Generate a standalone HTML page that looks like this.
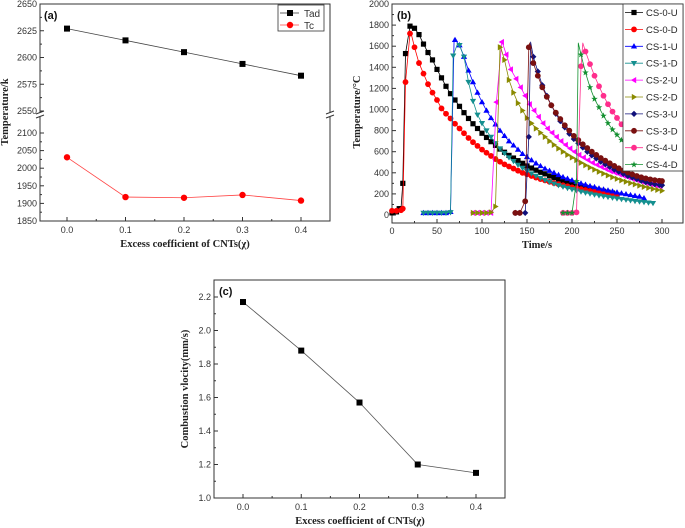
<!DOCTYPE html>
<html><head><meta charset="utf-8"><style>
html,body{margin:0;padding:0;background:#fff;}
svg{display:block;font-family:"Liberation Sans",sans-serif;}
.tk{font-size:9px;fill:#333;}
.ttl{font-family:"Liberation Serif",serif;font-weight:bold;font-size:10.5px;fill:#222;}
</style></head><body>
<svg id="fig" width="685" height="528" viewBox="0 0 685 528"></svg>
<script>
// ---- Panel (a) data ----
const aX = [0.0, 0.1, 0.2, 0.3, 0.4];
const aTad = [2627, 2616, 2605, 2594, 2583];
const aTc = [2031, 1918, 1916, 1924, 1908];
const aXTicks = ['0.0','0.1','0.2','0.3','0.4'];
const aUpperTicks = [2550, 2575, 2600, 2625, 2650];
const aLowerTicks = [1850, 1900, 1950, 2000, 2050, 2100];
// ---- Panel (b) data ----
const bXTicks = [0, 50, 100, 150, 200, 250, 300];
const bYTicks = [0, 200, 400, 600, 800, 1000, 1200, 1400, 1600, 1800, 2000];
const cs0uT = [0,5,8,10,12,15,20,25,30,35,40,45,50,55,60,65,70,75,80,85,90,95,100,105,110,115,120,125,130,135,140,145,150,155,160,165,170,175,180,185,190,195,200,205,210,215,220,225,230,235,240,245];
const cs0uV = [20,30,60,60,300,1530,1790,1770,1710,1620,1540,1470,1380,1300,1220,1150,1090,1030,970,915,865,820,775,735,695,660,625,595,565,540,515,490,465,445,425,405,390,370,355,340,325,312,300,288,276,265,254,244,234,225,216,208];
const cs0dT = [0,5,10,12,15,20,25,30,35,40,45,50,55,60,65,70,75,80,85,90,95,100,105,110,115,120,125,130,135,140,145,150,155,160,165,170,175,180,185,190,195,200,205,210,215,220,225,230,235,240,245,250];
const cs0dV = [40,40,45,60,1260,1720,1590,1440,1340,1240,1160,1090,1010,960,915,865,820,775,730,690,655,620,590,560,530,505,480,460,440,420,400,385,370,355,340,328,315,303,292,282,272,262,253,245,237,229,222,215,208,201,195,189];
const cs1uT = [35,40,45,50,55,60,65,70,75,80,85,90,95,100,105,110,115,120,125,130,135,140,145,150,155,160,165,170,175,180,185,190,195,200,205,210,215,220,225,230,235,240,245,250,255,260,265,270,275,280];
const cs1uV = [20,20,20,20,20,20,30,1660,1610,1500,1370,1260,1160,1070,990,920,860,800,750,700,660,620,580,550,520,490,465,440,420,400,380,360,345,330,315,300,288,275,265,253,243,233,224,215,206,198,190,182,175,160];
const cs1dT = [35,40,45,50,55,60,65,68,75,80,85,90,95,100,105,110,115,120,125,130,135,140,145,150,155,160,165,170,175,180,185,190,195,200,205,210,215,220,225,230,235,240,245,250,255,260,265,270,275,280,285,290];
const cs1dV = [20,20,20,20,20,20,25,1510,1610,1500,1260,1080,950,870,800,740,680,630,585,545,510,475,445,418,393,370,350,330,313,297,282,268,255,243,232,221,211,202,193,185,177,170,163,156,150,144,138,132,127,122,117,112];
const cs2uT = [90,95,100,105,110,116,122,127,132,138,143,148,153,158,163,168,173,178,183,188,193,198,203,208,213,218,223,228,233,238,243,248,253,258,263,268,273,278,283,288,293,298];
const cs2uV = [20,20,20,20,20,1070,1640,1520,1380,1290,1210,1130,1050,990,930,870,820,780,740,700,665,630,600,570,545,520,495,475,455,435,415,400,385,370,355,340,328,315,303,292,282,265];
const cs2dT = [90,95,100,105,110,115,120,125,130,135,140,145,150,155,160,165,170,175,180,185,190,195,200,205,210,215,220,225,230,235,240,245,250,255,260,265,270,275,280,285,290,295,300];
const cs2dV = [20,20,20,20,25,80,1590,1470,1280,1160,1060,990,920,870,820,780,740,700,665,630,600,570,545,520,495,472,450,430,410,392,375,358,343,328,315,302,290,278,267,257,247,238,230];
const cs3uT = [137,142,148,152,157,162,167,172,177,182,187,192,197,202,207,212,217,222,227,232,237,242,247,252,257,262,267,272,277,282,287,292,297,300];
const cs3uV = [20,20,20,740,1500,1360,1230,1130,1040,960,890,830,770,720,680,640,600,565,535,505,480,455,430,410,390,370,355,340,325,312,300,292,285,282];
const cs3dT = [137,142,148,152,157,162,167,172,177,182,187,192,197,202,207,212,217,222,227,232,237,242,247,252,257,262,267,272,277,282,287,292,297,300];
const cs3dV = [20,20,130,1590,1440,1320,1210,1120,1040,970,910,850,800,750,710,670,635,600,570,540,515,490,465,443,422,403,385,370,357,347,338,330,325,322];
const cs4uT = [190,195,200,205,210,215,220,225,230,235,240,245,250,255,260,265,270,275,280,285,290,295,300];
const cs4uV = [20,20,20,25,1410,1550,1430,1320,1220,1130,1050,980,920,860,810,760,720,680,640,610,580,555,535];
const cs4dT = [190,195,200,205,210,215,220,225,230,235,240,245,250,255,260,265,270,275,280,285,290,295,300];
const cs4dV = [20,20,20,320,1520,1350,1210,1100,1020,940,870,810,760,710,670,630,590,560,530,505,480,460,440];
// line-only peak points (curve maxima between samples) [time, temp] per series
const bPeakT = [21, 21, 69, 73, 122, 120, 154, 153, 212, 207];
const bPeakV = [1800, 1730, 1670, 1630, 1650, 1610, 1640, 1630, 1630, 1630];
const bNames = ['CS-0-U','CS-0-D','CS-1-U','CS-1-D','CS-2-U','CS-2-D','CS-3-U','CS-3-D','CS-4-U','CS-4-D'];
// ---- Panel (c) data ----
const cX = [0.0, 0.1, 0.2, 0.3, 0.4];
const cV = [2.17, 1.88, 1.57, 1.20, 1.15];
const cXTicks = ['0.0','0.1','0.2','0.3','0.4'];
const cYTicks = [1.0, 1.2, 1.4, 1.6, 1.8, 2.0, 2.2];

const NS = 'http://www.w3.org/2000/svg';
const svg = document.getElementById('fig');
function el(tag, attrs, parent, text) {
  const e = document.createElementNS(NS, tag);
  for (const k in attrs) e.setAttribute(k, attrs[k]);
  if (text !== undefined) e.textContent = text;
  (parent || svg).appendChild(e);
  return e;
}
function lin(d0, d1, r0, r1) { return v => r0 + (v - d0) * (r1 - r0) / (d1 - d0); }
function marker(g, shape, x, y, color, s) {
  let m;
  if (shape === 'square') m = el('rect', {x: x - s, y: y - s, width: 2 * s, height: 2 * s, fill: color}, g);
  else if (shape === 'circle') m = el('circle', {cx: x, cy: y, r: s, fill: color}, g);
  else {
    let pts;
    const k = s * 1.2;
    if (shape === 'up') pts = [[x, y - k], [x - k, y + k * 0.7], [x + k, y + k * 0.7]];
    if (shape === 'down') pts = [[x, y + k], [x - k, y - k * 0.7], [x + k, y - k * 0.7]];
    if (shape === 'left') pts = [[x - k, y], [x + k * 0.7, y - k], [x + k * 0.7, y + k]];
    if (shape === 'right') pts = [[x + k, y], [x - k * 0.7, y - k], [x - k * 0.7, y + k]];
    if (shape === 'diamond') pts = [[x, y - k], [x + k, y], [x, y + k], [x - k, y]];
    if (shape === 'star') {
      pts = [];
      for (let i = 0; i < 10; i++) {
        const r = i % 2 ? k * 0.45 : k * 1.1;
        const a = -Math.PI / 2 + i * Math.PI / 5;
        pts.push([x + r * Math.cos(a), y + r * Math.sin(a)]);
      }
    }
    m = el('polygon', {points: pts.map(p => p.join(',')).join(' '), fill: color}, g);
  }
  return m;
}

// ================= Panel (a) =================
const ga = el('g', {});


const ax = lin(0, 0.4, 67, 301);
const ayU = lin(2550, 2650, 111, 4);
const ayL = lin(1850, 2100, 221, 133);
const aFrame = el('rect', {x: 40, y: 4, width: 290, height: 217, fill: 'none', stroke: '#333', 'stroke-width': 1}, ga);


el('rect', {x: 36, y: 112, width: 8, height: 5, fill: '#fff'}, ga);
el('rect', {x: 326, y: 112, width: 8, height: 5, fill: '#fff'}, ga);
el('path', {d: 'M36,114 l8,-3 M36,118 l8,-3 M326,114 l8,-3 M326,118 l8,-3', stroke: '#333', 'stroke-width': 1}, ga);
aXTicks.forEach((t, i) => {
  const x = ax(+t);
  el('line', {x1: x, y1: 221, x2: x, y2: 217, stroke: '#333'}, ga);
  const lb = el('text', {x: x, y: 233, 'text-anchor': 'middle', class: 'tk'}, ga, t);
  
  
  if (i < aXTicks.length - 1) el('line', {x1: ax(+t + 0.05), y1: 221, x2: ax(+t + 0.05), y2: 219, stroke: '#333'}, ga);
});
aUpperTicks.forEach(v => {
  const y = ayU(v);
  el('line', {x1: 40, y1: y, x2: 44, y2: y, stroke: '#333'}, ga);
  if (v < 2650) el('line', {x1: 40, y1: ayU(v + 12.5), x2: 42, y2: ayU(v + 12.5), stroke: '#333'}, ga);
  const lb = el('text', {x: 37, y: y + 3, 'text-anchor': 'end', class: 'tk'}, ga, v);
  
  
});
aLowerTicks.forEach(v => {
  const y = ayL(v);
  el('line', {x1: 40, y1: y, x2: 44, y2: y, stroke: '#333'}, ga);
  if (v < 2100) el('line', {x1: 40, y1: ayL(v + 25), x2: 42, y2: ayL(v + 25), stroke: '#333'}, ga);
  const lb = el('text', {x: 37, y: y + 3, 'text-anchor': 'end', class: 'tk'}, ga, v);
  
  
});
const aTadLine = el('polyline', {points: aX.map((x, i) => ax(x) + ',' + ayU(aTad[i])).join(' '), fill: 'none', stroke: '#444', 'stroke-width': 0.8}, ga);


aX.forEach((x, i) => {
  const m = marker(ga, 'square', ax(x), ayU(aTad[i]), '#000', 3);
  
  
});
const aTcLine = el('polyline', {points: aX.map((x, i) => ax(x) + ',' + ayL(aTc[i])).join(' '), fill: 'none', stroke: '#f44', 'stroke-width': 0.8}, ga);


aX.forEach((x, i) => {
  const m = marker(ga, 'circle', ax(x), ayL(aTc[i]), '#f00', 3.2);
  
  
});
const aLeg = el('g', {}, ga);


el('rect', {x: 278, y: 5, width: 46, height: 26, fill: '#fff', stroke: '#333', 'stroke-width': 0.8}, aLeg);
el('line', {x1: 280, y1: 13, x2: 299, y2: 13, stroke: '#333', 'stroke-width': 0.8}, aLeg);
marker(aLeg, 'square', 290, 13, '#000', 3);
el('text', {x: 304, y: 17, class: 'tk', style: 'font-size:10px'}, aLeg, 'Tad');
el('line', {x1: 280, y1: 25, x2: 299, y2: 25, stroke: '#f44', 'stroke-width': 0.8}, aLeg);
marker(aLeg, 'circle', 290, 25, '#f00', 3.2);
el('text', {x: 304, y: 29, class: 'tk', style: 'font-size:10px'}, aLeg, 'Tc');
const aTag = el('text', {x: 44, y: 19, style: 'font-size:11px;font-weight:bold;fill:#111'}, ga, '(a)');


const aXT = el('text', {x: 185, y: 247, 'text-anchor': 'middle', class: 'ttl'}, ga, 'Excess coefficient of CNTs(χ)');


const aYT = el('text', {x: 0, y: 0, 'text-anchor': 'middle', class: 'ttl', transform: 'translate(8,112) rotate(-90)'}, ga, 'Temperature/k');



// ================= Panel (b) =================
const gb = el('g', {});


const bx = lin(0, 300, 392, 662);
const by = lin(0, 2000, 215, 4);
const bFrame = el('rect', {x: 392, y: 4, width: 291, height: 219, fill: 'none', stroke: '#333', 'stroke-width': 1}, gb);


bXTicks.forEach((t, i) => {
  const x = bx(t);
  el('line', {x1: x, y1: 223, x2: x, y2: 219, stroke: '#333'}, gb);
  if (i < bXTicks.length - 1) el('line', {x1: bx(t + 25), y1: 223, x2: bx(t + 25), y2: 221, stroke: '#333'}, gb);
  const lb = el('text', {x: x, y: 234, 'text-anchor': 'middle', class: 'tk'}, gb, t);
  
  
});
bYTicks.forEach((v, i) => {
  const y = by(v);
  el('line', {x1: 392, y1: y, x2: 396, y2: y, stroke: '#333'}, gb);
  if (i < bYTicks.length - 1) el('line', {x1: 392, y1: by(v + 100), x2: 394, y2: by(v + 100), stroke: '#333'}, gb);
  const lb = el('text', {x: 389, y: y + 3, 'text-anchor': 'end', class: 'tk'}, gb, v);
  
  
});
const bSeries = [
  [cs0uT, cs0uV, '#000', 'square', 2.6],
  [cs0dT, cs0dV, '#f00', 'circle', 2.9],
  [cs1uT, cs1uV, '#00f', 'up', 2.6],
  [cs1dT, cs1dV, '#148f8f', 'down', 2.6],
  [cs2uT, cs2uV, '#f0f', 'left', 2.6],
  [cs2dT, cs2dV, '#8a8a00', 'right', 2.6],
  [cs3uT, cs3uV, '#10107a', 'diamond', 2.6],
  [cs3dT, cs3dV, '#7a1010', 'circle', 2.9],
  [cs4uT, cs4uV, '#ff2d8c', 'circle', 2.9],
  [cs4dT, cs4dV, '#139030', 'star', 2.6]
];
bSeries.forEach((s, k) => {
  const [T, V, col, shp, sz] = s;
  const g = el('g', {}, gb);
  
  
  const pts = T.map((t, i) => [t, V[i]]);
  pts.push([bPeakT[k], bPeakV[k]]);
  pts.sort((a, b) => a[0] - b[0]);
  el('polyline', {points: pts.map(p => bx(p[0]) + ',' + by(p[1])).join(' '), fill: 'none', stroke: col, 'stroke-width': 0.8, 'stroke-linejoin': 'round'}, g);
  T.forEach((t, i) => marker(g, shp, bx(t), by(V[i]), col, sz));
});
const bLeg = el('g', {}, gb);


el('rect', {x: 623, y: 4, width: 60, height: 167, fill: '#fff', stroke: '#333', 'stroke-width': 0.8}, bLeg);
bSeries.forEach((s, k) => {
  const y = 12.5 + k * 16.9;
  const e = el('g', {}, bLeg);
  
  
  el('line', {x1: 625, y1: y, x2: 643, y2: y, stroke: s[2], 'stroke-width': 0.8}, e);
  marker(e, s[3], 634, y, s[2], s[4]);
  el('text', {x: 646, y: y + 3.5, class: 'tk', style: 'font-size:9.5px;fill:#222'}, e, bNames[k]);
});
const bTag = el('text', {x: 397, y: 19, style: 'font-size:11px;font-weight:bold;fill:#111'}, gb, '(b)');


const bXT = el('text', {x: 537, y: 248, 'text-anchor': 'middle', class: 'ttl'}, gb, 'Time/s');


const bYT = el('text', {x: 0, y: 0, 'text-anchor': 'middle', class: 'ttl', transform: 'translate(360,112) rotate(-90)'}, gb, 'Temperature/°C');



// ================= Panel (c) =================
const gc = el('g', {});


const cx = lin(0, 0.4, 243, 476);
const cy = lin(1.0, 2.2, 498, 297);
const cFrame = el('rect', {x: 214, y: 280, width: 291, height: 218, fill: 'none', stroke: '#333', 'stroke-width': 1}, gc);


cXTicks.forEach((t, i) => {
  const x = cx(+t);
  el('line', {x1: x, y1: 498, x2: x, y2: 494, stroke: '#333'}, gc);
  if (i < cXTicks.length - 1) el('line', {x1: cx(+t + 0.05), y1: 498, x2: cx(+t + 0.05), y2: 496, stroke: '#333'}, gc);
  const lb = el('text', {x: x, y: 510, 'text-anchor': 'middle', class: 'tk'}, gc, t);
  
  
});
cYTicks.forEach((v, i) => {
  const y = cy(v);
  el('line', {x1: 214, y1: y, x2: 218, y2: y, stroke: '#333'}, gc);
  if (i < cYTicks.length - 1) el('line', {x1: 214, y1: cy(v + 0.1), x2: 216, y2: cy(v + 0.1), stroke: '#333'}, gc);
  const lb = el('text', {x: 211, y: y + 3, 'text-anchor': 'end', class: 'tk'}, gc, v.toFixed(1));
  
  
});
const cLine = el('polyline', {points: cX.map((x, i) => cx(x) + ',' + cy(cV[i])).join(' '), fill: 'none', stroke: '#555', 'stroke-width': 0.8}, gc);


cX.forEach((x, i) => {
  const m = marker(gc, 'square', cx(x), cy(cV[i]), '#000', 3);
  
  
});
const cTag = el('text', {x: 219, y: 295, style: 'font-size:11px;font-weight:bold;fill:#111'}, gc, '(c)');


const cXT = el('text', {x: 360, y: 524, 'text-anchor': 'middle', class: 'ttl'}, gc, 'Excess coefficient of CNTs(χ)');


const cYT = el('text', {x: 0, y: 0, 'text-anchor': 'middle', class: 'ttl', transform: 'translate(188,389) rotate(-90)'}, gc, 'Combustion vlocity(mm/s)');


</script>
</body></html>
